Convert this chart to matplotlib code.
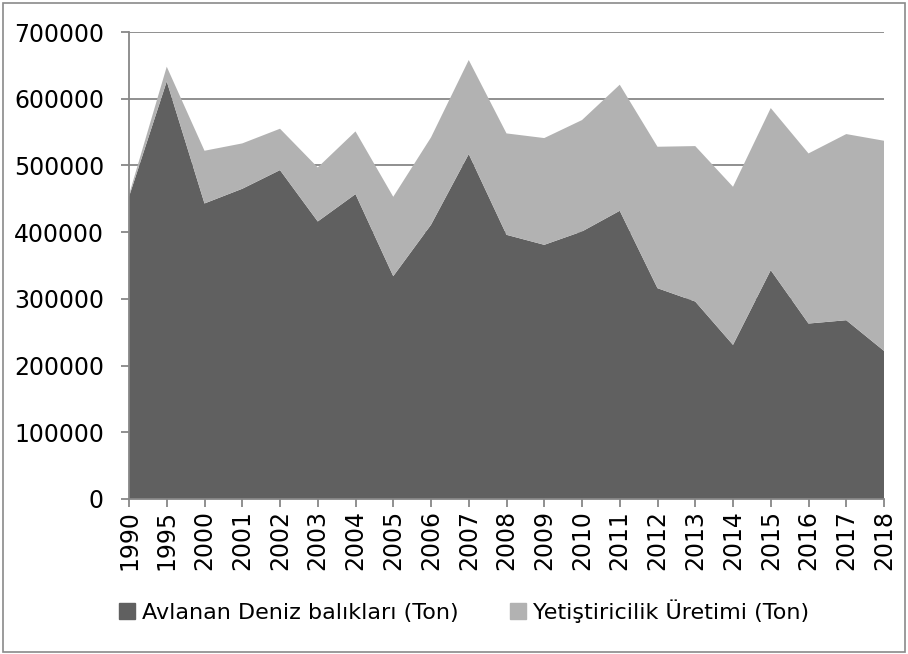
import matplotlib
matplotlib.use("Agg")
import matplotlib.pyplot as plt
from matplotlib.patches import Rectangle, Patch
import numpy as np

years = ["1990", "1995", "2000", "2001", "2002", "2003", "2004", "2005", "2006", "2007",
         "2008", "2009", "2010", "2011", "2012", "2013", "2014", "2015", "2016", "2017", "2018"]
avlanan = [453000, 626000, 443000, 465000, 493000, 416000, 457000, 334000, 411000, 517000,
           396000, 381000, 401000, 432000, 316000, 296000, 231000, 343000, 263000, 268000, 222000]
toplam = [456000, 648000, 522000, 533000, 555000, 497000, 551000, 453000, 542000, 658000,
          548000, 541000, 568000, 621000, 528000, 529000, 468000, 586000, 518000, 547000, 537000]
yetistiricilik = [t - a for t, a in zip(toplam, avlanan)]
labels = ["Avlanan Deniz balıkları (Ton)", "Yetiştiricilik Üretimi (Ton)"]

DARK, LIGHT, GRID = "#606060", "#b2b2b2", "#878787"
plt.rcParams["font.family"] = ["DejaVu Sans"]

fig = plt.figure(figsize=(9.08, 6.54), dpi=100)
ax = fig.add_axes([129 / 908, 155 / 654, 755 / 908, 467 / 654])

x = np.arange(len(years))
ax.stackplot(x, avlanan, yetistiricilik, colors=[DARK, LIGHT], linewidth=0, zorder=2)

ax.set_xlim(0, len(years) - 1)
ax.set_ylim(0, 700000)
ax.set_yticks(np.arange(0, 700001, 100000))
ax.set_yticklabels([str(v) for v in range(0, 700001, 100000)])
ax.set_xticks(x)
ax.set_xticklabels(years, rotation=90)
ax.grid(axis="y", color=GRID, lw=1.3, zorder=1)
ax.set_axisbelow(True)
for s in ["top", "right"]:
    ax.spines[s].set_visible(False)
for s in ["left", "bottom"]:
    ax.spines[s].set_color(GRID)
    ax.spines[s].set_linewidth(1.3)
    ax.spines[s].set_zorder(3)
ax.tick_params(colors=GRID, labelcolor="black", labelsize=17, length=6, width=1.3)
ax.tick_params(axis="y", pad=12)
ax.tick_params(axis="x", pad=2)

handles = [Patch(color=DARK), Patch(color=LIGHT)]
fig.legend(handles, labels, loc="center", bbox_to_anchor=(0.511, 0.066), ncol=2,
           frameon=False, fontsize=16, handlelength=0.75, handleheight=0.75,
           handletextpad=0.3, columnspacing=2.3)

fig.patches.append(Rectangle((3 / 908, 2 / 654), 902 / 908, 649 / 654, transform=fig.transFigure,
                             fill=False, ec="#8a8a8a", lw=1.2))

fig.savefig("out.png", dpi=100)
